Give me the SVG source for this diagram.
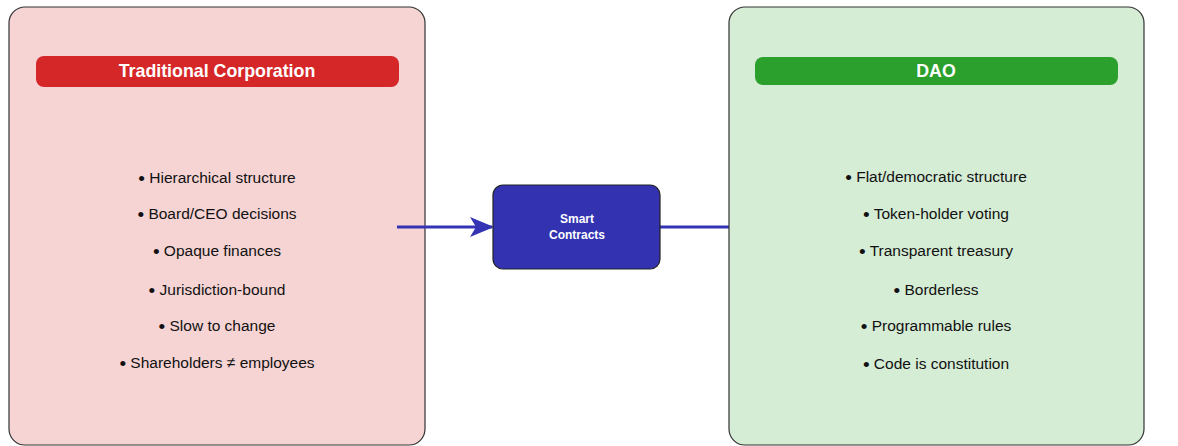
<svg xmlns="http://www.w3.org/2000/svg" width="1178" height="446" viewBox="0 0 1178 446">
  <defs>
    <marker id="stealth" viewBox="0 0 24 20" refX="22" refY="10" markerWidth="24" markerHeight="20" markerUnits="userSpaceOnUse" orient="auto">
      <path d="M0,0 L24,10 L0,20 L6,10 Z" fill="#3434b4"/>
    </marker>
  </defs>
  <style>
    .panel { stroke: #333; stroke-width: 1.2; }
    .title { font-family: "Liberation Sans", Arial, sans-serif; font-size: 17.8px; font-weight: bold; fill: #fff; text-anchor: middle; }
    .item { font-family: "Liberation Sans", Arial, sans-serif; font-size: 15.5px; fill: #111; text-anchor: middle; }
    .dot { font-size: 19px; baseline-shift: -1.5px; }
    .hub-text { font-family: "Liberation Sans", Arial, sans-serif; font-size: 12px; font-weight: bold; fill: #fff; text-anchor: middle; }
    .link { stroke: #3434b4; stroke-width: 3; fill: none; }
  </style>
  <rect width="1178" height="446" fill="#fff"/>

  <g id="traditional">
    <rect class="panel" x="9" y="7" width="416" height="438" rx="16" fill="#f6d4d4"/>
    <rect x="36" y="56" width="363" height="31" rx="8" fill="#d62728"/>
    <text class="title" x="217" y="77">Traditional Corporation</text>
    <text class="item" x="217" y="183"><tspan class="dot">•</tspan> Hierarchical structure</text>
    <text class="item" x="217" y="219"><tspan class="dot">•</tspan> Board/CEO decisions</text>
    <text class="item" x="217" y="256"><tspan class="dot">•</tspan> Opaque finances</text>
    <text class="item" x="217" y="295"><tspan class="dot">•</tspan> Jurisdiction-bound</text>
    <text class="item" x="217" y="331"><tspan class="dot">•</tspan> Slow to change</text>
    <text class="item" x="217" y="368"><tspan class="dot">•</tspan> Shareholders ≠ employees</text>
  </g>

  <g id="connectors">
    <line class="link" x1="397" y1="227" x2="492" y2="227" marker-end="url(#stealth)"/>
    <line class="link" x1="660" y1="227" x2="729" y2="227"/>
  </g>

  <g id="smart-contracts">
    <rect x="493" y="185" width="167" height="84" rx="10" fill="#3333b2" stroke="#222" stroke-width="1.2"/>
    <text class="hub-text" x="577" y="223">Smart</text>
    <text class="hub-text" x="577" y="239">Contracts</text>
  </g>

  <g id="dao">
    <rect class="panel" x="729" y="7" width="415" height="438" rx="16" fill="#d5ecd5"/>
    <rect x="755" y="57" width="363" height="28" rx="8" fill="#2ca02c"/>
    <text class="title" x="936" y="77">DAO</text>
    <text class="item" x="936" y="182"><tspan class="dot">•</tspan> Flat/democratic structure</text>
    <text class="item" x="936" y="219"><tspan class="dot">•</tspan> Token-holder voting</text>
    <text class="item" x="936" y="256"><tspan class="dot">•</tspan> Transparent treasury</text>
    <text class="item" x="936" y="295"><tspan class="dot">•</tspan> Borderless</text>
    <text class="item" x="936" y="331"><tspan class="dot">•</tspan> Programmable rules</text>
    <text class="item" x="936" y="369"><tspan class="dot">•</tspan> Code is constitution</text>
  </g>
</svg>
